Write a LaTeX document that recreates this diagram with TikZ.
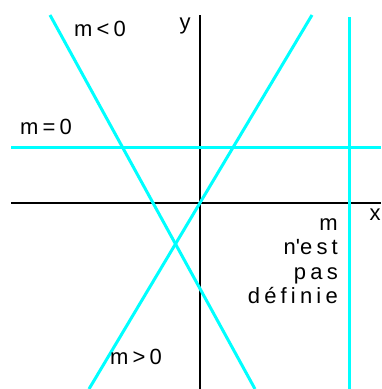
\documentclass[tikz,border=0pt]{standalone}
\usepackage{fontspec}
\setmainfont{Liberation Sans}[LetterSpace=19]
\usetikzlibrary{positioning}
\definecolor{droitecyan}{RGB}{0,255,255}
\tikzset{
    axe/.style={line width=2.6pt, black},
    droite/.style={line width=3pt, droitecyan},
    etiq/.style={font=\fontsize{22}{24.5}\selectfont, inner sep=0pt},
}

\begin{document}
\begin{tikzpicture}[x=1pt, y=-1pt]
    \useasboundingbox (0,0) rectangle (381,389);
    % Axes
    \coordinate (ytop) at (200,15);
    \coordinate (ybot) at (200,389);
    \coordinate (xgauche) at (11,203);
    \coordinate (xdroite) at (381,203);
    \draw[axe] (ytop) -- (ybot);
    \draw[axe] (xgauche) -- (xdroite);
    \node[etiq] (ylab) at (185,26) {y};
    \node[etiq] (xlab) at (375,215) {x};

    % Droites
    \coordinate (neg1) at (50,15);
    \coordinate (neg2) at (255,389);
    \coordinate (pos1) at (312,15);
    \coordinate (pos2) at (89,389);
    \coordinate (hor1) at (11,147);
    \coordinate (hor2) at (381,147);
    \coordinate (ver1) at (349,17);
    \coordinate (ver2) at (349,389);
    \draw[droite] (neg1) -- (neg2);
    \draw[droite] (pos1) -- (pos2);
    \draw[droite] (hor1) -- (hor2);
    \draw[droite] (ver1) -- (ver2);

    % Pentes
    \node[etiq] (mneg) at (100,29) {m<0};
    \node[etiq] (mnul) at (46,127) {m=0};
    \node[etiq] (mpos) at (136,357) {m>0};
    \node[etiq, align=right, anchor=north east] (mind) at (338,218) {m\\n\textquotesingle est\\pas\\définie};
\end{tikzpicture}
\end{document}
